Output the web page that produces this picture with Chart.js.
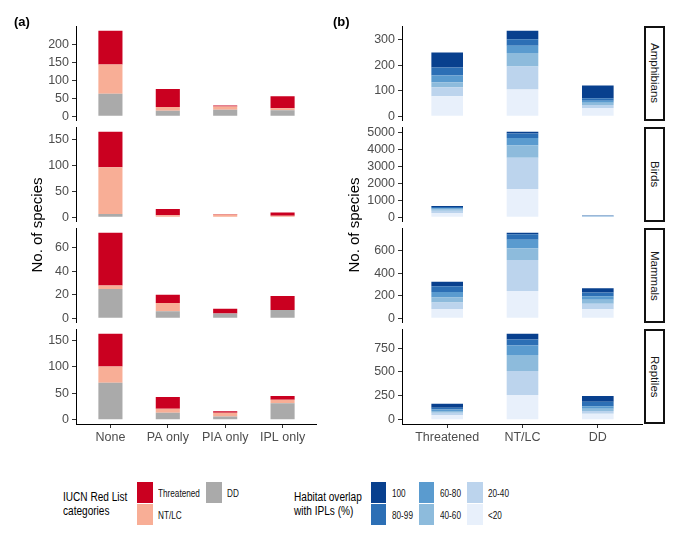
<!DOCTYPE html>
<html><head><meta charset="utf-8">
<script src="https://cdn.jsdelivr.net/npm/chart.js@4.4.1/dist/chart.umd.min.js"></script>
<style>
body{margin:0;background:#fff;font-family:"Liberation Sans",Arial,Helvetica,sans-serif;}
#wrap{position:relative;width:680px;height:548px;overflow:hidden;background:#fff}
#wrap canvas{position:absolute}
.abs{position:absolute;white-space:nowrap}
.ytitle{position:absolute;width:220px;height:18px;line-height:18px;text-align:center;font-size:15px;color:#000;transform:rotate(-90deg);transform-origin:50% 50%}
.strip{position:absolute;box-sizing:border-box;border:2px solid #111;background:#fff;display:flex;align-items:center;justify-content:center}
.strip span{writing-mode:vertical-rl;font-size:11.5px;color:#1a1a1a}
.key{position:absolute}
.ltxt{position:absolute;font-size:10.5px;color:#111;transform:scaleX(0.78);transform-origin:0 50%;line-height:12px;height:12px;white-space:nowrap}
.ltitle{position:absolute;font-size:12px;color:#000;transform:scaleX(0.84);transform-origin:0 50%;line-height:14px;white-space:nowrap}
</style></head><body><div id="wrap"></div>
<script>
// ---------------- DATA ----------------
const taxa = ['Amphibians', 'Birds', 'Mammals', 'Reptiles'];

// Panel (a): protection categories, series = IUCN Red List categories (rows = taxa)
const aCategories = ['None', 'PA only', 'PIA only', 'IPL only'];
const aDD         = [[63, 15, 18, 17], [6, 0, 0, 0], [25, 6, 4, 7], [70, 13, 6, 31]];
const aNTLC       = [[82, 11, 9, 5], [90, 4, 5, 3], [3, 7, 0, 0], [31, 8, 7, 7]];
const aThreatened = [[94, 50, 3, 34], [68, 12, 1, 6], [45, 7, 4, 12], [62, 22, 3, 7]];
const aTicks = [[0, 50, 100, 150, 200], [0, 50, 100, 150], [0, 20, 40, 60], [0, 50, 100, 150]];

// Panel (b): IUCN categories, series = habitat overlap classes (rows = taxa)
const bCategories = ['Threatened', 'NT/LC', 'DD'];
const bLt20  = [[79, 105, 32], [250, 1660, 15], [82, 243, 79], [48, 259, 62]];
const b20_40 = [[35, 91, 12], [136, 1834, 15], [58, 275, 50], [25, 250, 28]];
const b40_60 = [[20, 53, 9], [77, 714, 15], [44, 105, 35], [17, 169, 24]];
const b60_80 = [[26, 28, 8], [58, 444, 20], [50, 76, 32], [17, 100, 28]];
const b80_99 = [[32, 26, 10], [77, 271, 15], [50, 47, 32], [18, 63, 45]];
const b100   = [[59, 33, 50], [58, 96, 15], [41, 14, 38], [41, 59, 62]];
const bTicks = [[0, 100, 200, 300], [0, 1000, 2000, 3000, 4000, 5000], [0, 200, 400, 600], [0, 250, 500, 750]];

// Legend labels
const aSeriesLabels = ['DD', 'NT/LC', 'Threatened'];
const bSeriesLabels = ['<20', '20-40', '40-60', '60-80', '80-99', '100'];

// ---------------- STYLE / LAYOUT ----------------
const aColors = ['#aaaaaa', '#f8ae96', '#ca0020'];
const bColors = ['#e8f0fb', '#bcd4ed', '#8dbbdc', '#5a9bcf', '#2c6fb5', '#08408e'];
const FONT = '"Liberation Sans", Arial, Helvetica, sans-serif';
const facetTop0 = 26, facetPitch = 101, facetH = 95, PAD = 10, XAXIS_H = 26;

const wrap = document.getElementById('wrap');

function maxTotal(seriesArr, f) {
  let m = 0;
  const n = seriesArr[0][f].length;
  for (let i = 0; i < n; i++) {
    let s = 0;
    seriesArr.forEach(a => s += a[f][i]);
    m = Math.max(m, s);
  }
  return m;
}

function makeFacet(opts) {
  const { f, left, axisX, right, cats, series, colors, labels, ticks } = opts;
  const last = f === 3;
  const top = facetTop0 + f * facetPitch - PAD;
  const h = PAD + facetH + (last ? XAXIS_H : PAD);
  const w = right - left;
  const cv = document.createElement('canvas');
  cv.width = w; cv.height = h;
  cv.style.left = left + 'px'; cv.style.top = top + 'px';
  cv.style.width = w + 'px'; cv.style.height = h + 'px';
  wrap.appendChild(cv);
  const M = maxTotal(series, f);
  const datasets = series.map((arr, k) => ({
    label: labels[k],
    data: arr[f].map((v, i) => ({ x: i, y: v })),
    backgroundColor: colors[k],
    borderWidth: 0,
    barPercentage: 0.42,
    categoryPercentage: 1.0
  }));
  new Chart(cv, {
    type: 'bar',
    data: { datasets },
    options: {
      responsive: false, animation: false,
      layout: { padding: { top: PAD, bottom: last ? 0 : PAD, left: 0, right: 0 } },
      plugins: { legend: { display: false }, tooltip: { enabled: false } },
      scales: {
        x: {
          type: 'linear', stacked: true, offset: false, min: -0.6, max: cats.length - 1 + 0.6,
          display: last,
          afterBuildTicks: s => { s.ticks = cats.map((_, i) => ({ value: i })); },
          afterFit: s => { if (last) s.height = XAXIS_H; },
          ticks: { callback: v => cats[v], autoSkip: false, maxRotation: 0, minRotation: 0,
                   color: '#4d4d4d', font: { family: FONT, size: 12.5 }, padding: 2 },
          grid: { drawOnChartArea: false, drawTicks: true, tickLength: 4, color: '#333333', lineWidth: 1, offset: false },
          border: { display: true, color: '#000000', width: 1 }
        },
        y: {
          type: 'linear', stacked: true, min: -0.05 * M, max: 1.05 * M,
          afterBuildTicks: s => { s.ticks = ticks[f].map(v => ({ value: v })); },
          afterFit: s => { s.width = axisX - left; },
          ticks: { callback: v => String(v), autoSkip: false, color: '#4d4d4d', font: { family: FONT, size: 12.5 }, padding: 3 },
          grid: { drawOnChartArea: false, drawTicks: true, tickLength: 4, color: '#333333', lineWidth: 1 },
          border: { display: true, color: '#000000', width: 1 }
        }
      }
    }
  });
}

for (let f = 0; f < 4; f++) {
  makeFacet({ f, left: 0, axisX: 76, right: 317, cats: aCategories,
    series: [aDD, aNTLC, aThreatened], colors: aColors, labels: aSeriesLabels, ticks: aTicks });
  makeFacet({ f, left: 360, axisX: 402, right: 643, cats: bCategories,
    series: [bLt20, b20_40, b40_60, b60_80, b80_99, b100], colors: bColors, labels: bSeriesLabels, ticks: bTicks });
  const st = document.createElement('div');
  st.className = 'strip';
  st.style.left = '644px'; st.style.top = (facetTop0 + f * facetPitch) + 'px';
  st.style.width = '21px'; st.style.height = facetH + 'px';
  st.innerHTML = '<span>' + taxa[f] + '</span>';
  wrap.appendChild(st);
}

function addDiv(cls, html, css) {
  const d = document.createElement('div');
  d.className = cls; d.innerHTML = html;
  Object.assign(d.style, css);
  wrap.appendChild(d);
  return d;
}
// panel tags
addDiv('abs', '(a)', { left: '14px', top: '14px', fontSize: '13px', fontWeight: 'bold', color: '#000' });
addDiv('abs', '(b)', { left: '333px', top: '14px', fontSize: '13px', fontWeight: 'bold', color: '#000' });
// y titles
addDiv('ytitle', 'No. of species', { left: (37 - 110) + 'px', top: (225 - 9) + 'px' });
addDiv('ytitle', 'No. of species', { left: (354 - 110) + 'px', top: (225 - 9) + 'px' });

// legend (a)
addDiv('ltitle', 'IUCN Red List<br>categories', { left: '63px', top: '490px' });
const aKeyPos = [[205.7, 481.7], [136.7, 504.3], [136.7, 481.7]]; // DD, NT/LC, Threatened
aSeriesLabels.forEach((lab, k) => {
  const [x, y] = aKeyPos[k];
  addDiv('key', '', { left: x + 'px', top: y + 'px', width: '16px', height: '21px', background: aColors[k] });
  addDiv('ltxt', lab.replace('<', '&lt;'), { left: (x + 21.5) + 'px', top: (y + 5) + 'px' });
});
// legend (b)
addDiv('ltitle', 'Habitat overlap<br>with IPLs (%)', { left: '294px', top: '490px' });
const bKeyPos = [[467, 504.3], [467, 481.7], [418.7, 504.3], [418.7, 481.7], [370.7, 504.3], [370.7, 481.7]];
bSeriesLabels.forEach((lab, k) => {
  const [x, y] = bKeyPos[k];
  addDiv('key', '', { left: x + 'px', top: y + 'px', width: '15.5px', height: '21px', background: bColors[k] });
  addDiv('ltxt', lab.replace('<', '&lt;'), { left: (x + 21) + 'px', top: (y + 5) + 'px' });
});
</script></body></html>
